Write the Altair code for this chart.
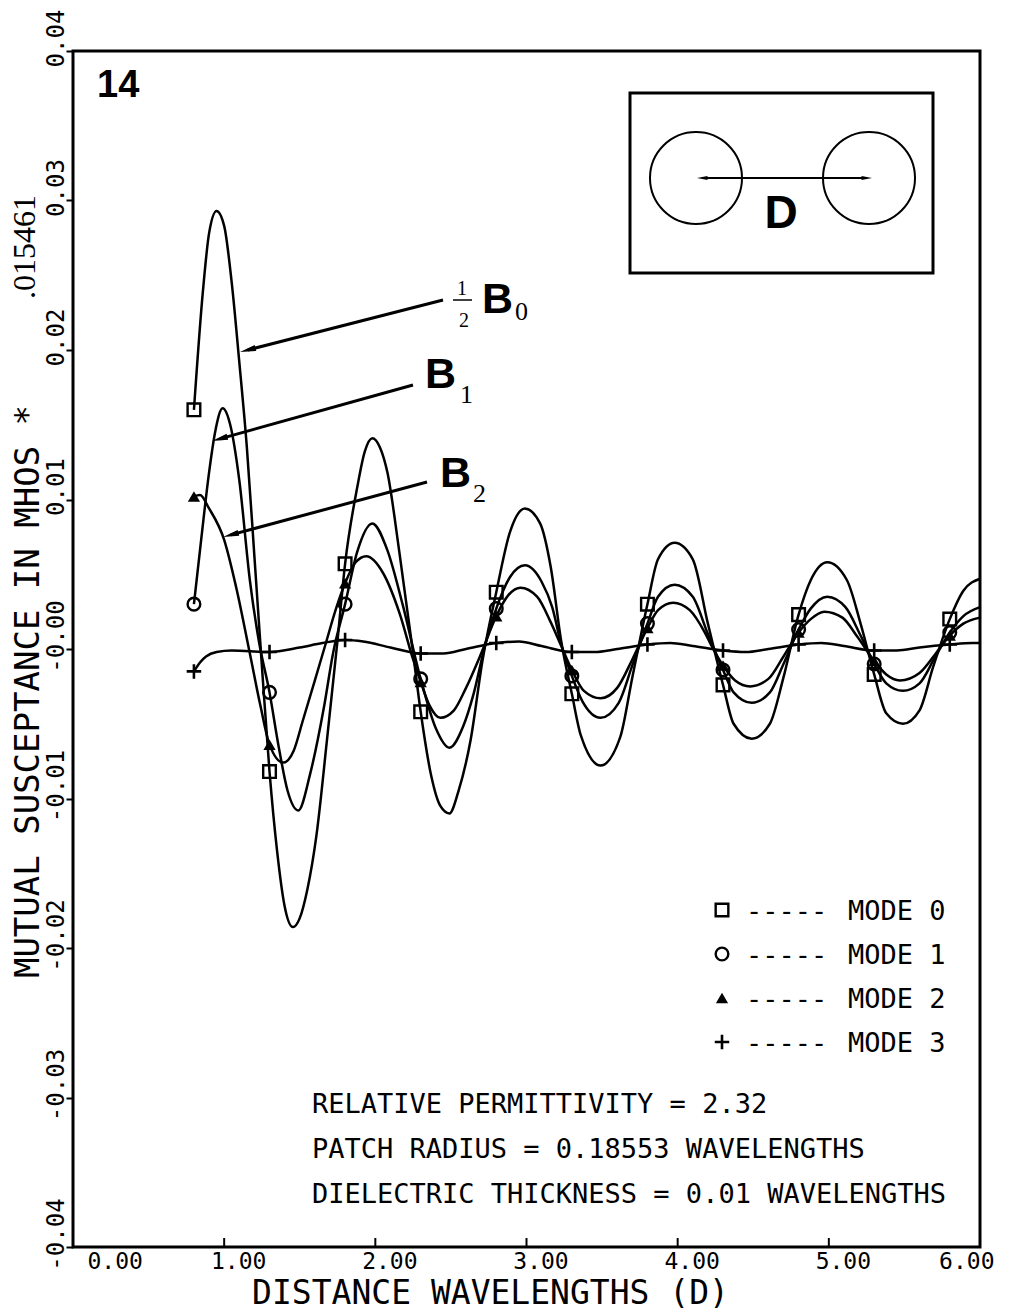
import math

import altair as alt
import numpy as np
import pandas as pd

# ---------------------------------------------------------------------------
# Mutual susceptance (mhos, scaled) versus centre spacing D (wavelengths)
# ---------------------------------------------------------------------------
MODE0_X = [0.80, 0.86, 0.90, 0.95, 1.00, 1.05, 1.10, 1.15, 1.20, 1.25, 1.30, 1.35,
           1.40, 1.455, 1.50, 1.55, 1.61, 1.68, 1.75, 1.80, 1.88, 1.93, 1.98, 2.03,
           2.08, 2.16, 2.25, 2.30, 2.37, 2.43, 2.49, 2.55, 2.63, 2.71, 2.80, 2.89,
           2.99, 3.09, 3.16, 3.23, 3.30, 3.36, 3.49, 3.62, 3.70, 3.80, 3.87, 3.98,
           4.10, 4.20, 4.30, 4.37, 4.49, 4.61, 4.70, 4.80, 4.88, 4.99, 5.12, 5.21,
           5.30, 5.38, 5.49, 5.60, 5.69, 5.80, 5.89, 6.00]
MODE0_Y = [0.0160, 0.0240, 0.0278, 0.0293, 0.0283, 0.0245, 0.0192, 0.0135, 0.0062,
           -0.0012, -0.0082, -0.0135, -0.0172, -0.0186, -0.0180, -0.0161, -0.0125,
           -0.0061, 0.0006, 0.0057, 0.0108, 0.0132, 0.0141, 0.0135, 0.0118, 0.0064,
           -0.0003, -0.0042, -0.0085, -0.0105, -0.0110, -0.0095, -0.0061, -0.0007,
           0.0038, 0.0078, 0.0094, 0.0084, 0.0055, 0.0005, -0.0030, -0.0058, -0.0078,
           -0.0059, -0.0019, 0.0030, 0.0060, 0.0071, 0.0060, 0.0017, -0.0024, -0.0050,
           -0.0060, -0.0050, -0.0019, 0.0023, 0.0046, 0.0058, 0.0046, 0.0017, -0.0017,
           -0.0043, -0.0050, -0.0041, -0.0012, 0.0020, 0.0039, 0.0047]

MODE1_X = [0.80, 0.85, 0.90, 0.94, 0.99, 1.04, 1.10, 1.17, 1.23, 1.30, 1.36, 1.42,
           1.49, 1.57, 1.66, 1.72, 1.80, 1.88, 1.98, 2.08, 2.18, 2.30, 2.40, 2.49,
           2.58, 2.65, 2.72, 2.80, 2.89, 2.99, 3.10, 3.17, 3.23, 3.30, 3.37, 3.49,
           3.61, 3.70, 3.80, 3.87, 3.98, 4.10, 4.20, 4.30, 4.37, 4.49, 4.61, 4.70,
           4.80, 4.88, 4.99, 5.11, 5.21, 5.30, 5.38, 5.49, 5.60, 5.70, 5.80, 5.89, 6.00]
MODE1_Y = [0.0030, 0.0075, 0.0118, 0.0145, 0.0161, 0.0150, 0.0113, 0.0046, 0.0005,
           -0.0029, -0.0065, -0.0095, -0.0108, -0.0083, -0.0039, -0.0003, 0.0030,
           0.0065, 0.0084, 0.0066, 0.0030, -0.0020, -0.0053, -0.0066, -0.0052,
           -0.0030, 0.0000, 0.0027, 0.0048, 0.0056, 0.0045, 0.0028, 0.0003, -0.0018,
           -0.0035, -0.0046, -0.0036, -0.0011, 0.0017, 0.0035, 0.0043, 0.0035, 0.0010,
           -0.0014, -0.0029, -0.0036, -0.0029, -0.0010, 0.0013, 0.0027, 0.0035, 0.0028,
           0.0009, -0.0010, -0.0023, -0.0028, -0.0023, -0.0006, 0.0011, 0.0022, 0.0028]

MODE2_X = [0.80, 0.84, 0.90, 1.00, 1.08, 1.17, 1.24, 1.30, 1.39, 1.46, 1.52, 1.60,
           1.67, 1.74, 1.80, 1.87, 1.94, 2.05, 2.16, 2.25, 2.30, 2.36, 2.43, 2.52,
           2.60, 2.70, 2.80, 2.88, 2.96, 3.07, 3.16, 3.23, 3.30, 3.38, 3.49, 3.60,
           3.70, 3.80, 3.87, 3.97, 4.08, 4.18, 4.23, 4.30, 4.38, 4.48, 4.60, 4.70,
           4.80, 4.88, 4.97, 5.09, 5.19, 5.30, 5.38, 5.47, 5.60, 5.70, 5.80, 5.89, 6.00]
MODE2_Y = [0.0102, 0.0103, 0.0094, 0.0073, 0.0041, -0.0003, -0.0038, -0.0064,
           -0.0076, -0.0068, -0.0048, -0.0021, 0.0003, 0.0027, 0.0044, 0.0058, 0.0062,
           0.0051, 0.0024, -0.0007, -0.0022, -0.0038, -0.0046, -0.0041, -0.0026,
           -0.0003, 0.0022, 0.0036, 0.0041, 0.0035, 0.0018, 0.0002, -0.0014, -0.0028,
           -0.0033, -0.0026, -0.0007, 0.0014, 0.0026, 0.0031, 0.0026, 0.0011, 0.0001,
           -0.0011, -0.0021, -0.0025, -0.0020, -0.0005, 0.0011, 0.0020, 0.0025, 0.0021,
           0.0008, -0.0008, -0.0017, -0.0021, -0.0016, -0.0004, 0.0009, 0.0017, 0.0021]

MODE3_X = [0.80, 0.84, 0.88, 0.95, 1.05, 1.30, 1.50, 1.65, 1.80, 1.92, 2.10, 2.30,
           2.45, 2.60, 2.80, 2.95, 3.10, 3.30, 3.45, 3.60, 3.80, 3.95, 4.10, 4.30,
           4.45, 4.60, 4.80, 4.95, 5.10, 5.30, 5.45, 5.60, 5.80, 5.95, 6.00]
MODE3_Y = [-0.0015, -0.0009, -0.0005, -0.0002, -0.0001, -0.0002, 0.0001, 0.0004,
           0.0006, 0.0005, 0.0001, -0.0003, -0.0003, 0.0000, 0.0004, 0.0005, 0.0002,
           -0.0002, -0.0002, 0.0000, 0.0003, 0.0004, 0.0002, -0.0001, -0.0002, 0.0000,
           0.0003, 0.0004, 0.0002, -0.0001, -0.0001, 0.0001, 0.0003, 0.0004, 0.0004]

MARKER_X = [0.8, 1.3, 1.8, 2.3, 2.8, 3.3, 3.8, 4.3, 4.8, 5.3, 5.8]
MODE_NAMES = ["MODE 0", "MODE 1", "MODE 2", "MODE 3"]
X_TICKS = [0, 1, 2, 3, 4, 5, 6]
Y_TICKS = [-0.04, -0.03, -0.02, -0.01, 0.0, 0.01, 0.02, 0.03, 0.04]
INFO_LINES = [
    "RELATIVE PERMITTIVITY = 2.32",
    "PATCH RADIUS = 0.18553 WAVELENGTHS",
    "DIELECTRIC THICKNESS = 0.01 WAVELENGTHS",
]

# ---------------------------------------------------------------------------
W, H = 907, 1196
FONT = "DejaVu Sans Mono"
SANS = "Liberation Sans"
SERIF = "Liberation Serif"
INK = "black"
PLUS_PATH = "M-1,0L1,0M0,-1L0,1"
HEAD_PATH = "M0,-1L0.38,1L-0.38,1Z"

series = [(MODE0_X, MODE0_Y), (MODE1_X, MODE1_Y), (MODE2_X, MODE2_Y), (MODE3_X, MODE3_Y)]
curves = pd.concat(
    [pd.DataFrame({"x": xs, "y": ys, "mode": name}) for name, (xs, ys) in zip(MODE_NAMES, series)],
    ignore_index=True,
)
is_marker = np.isclose(curves["x"].to_numpy()[:, None], np.array(MARKER_X)[None, :]).any(axis=1)
markers = curves[is_marker].reset_index(drop=True)

xscale = alt.Scale(domain=[0, 6], nice=False, zero=False)
yscale = alt.Scale(domain=[-0.04, 0.04], nice=False, zero=False)

x_axis = alt.Axis(
    values=X_TICKS, labelExpr="format(datum.value, '.2f')", ticks=False, tickSize=0,
    domain=False, grid=False, labelFont=FONT, labelFontSize=23, labelColor=INK,
    labelBaseline="alphabetic", labelPadding=21, labelOffset=14,
    title="DISTANCE WAVELENGTHS (D)", titleFont=FONT, titleFontSize=33,
    titleFontWeight="normal", titleColor=INK, titleX=417, titleY=56,
    titleAlign="center", titleBaseline="alphabetic",
)
y_axis = alt.Axis(
    values=Y_TICKS,
    labelExpr="abs(datum.value) < 1e-9 ? '-0.00' : (datum.value < 0 ? '-' : '') + format(abs(datum.value), '.2f')",
    tickSize=7, tickWidth=2, tickColor=INK, domain=False, grid=False,
    labelFont=FONT, labelFontSize=24, labelColor=INK, labelAngle=270,
    labelAlign="center", labelBaseline="bottom", labelPadding=-2, labelOffset=-13,
    title="MUTUAL SUSCEPTANCE IN MHOS  *", titleFont=FONT, titleFontSize=34,
    titleFontWeight="normal", titleColor=INK, titleAngle=270, titleAlign="center",
    titleBaseline="middle", titleX=-45, titleY=640,
)

base = alt.Chart(curves)
lines = base.mark_line(interpolate="monotone", color=INK, strokeWidth=2.5).encode(
    x=alt.X("x:Q", scale=xscale, axis=x_axis),
    y=alt.Y("y:Q", scale=yscale, axis=y_axis),
    detail="mode:N",
)

mk = alt.Chart(markers)
def marker_layer(mode, **style):
    return mk.transform_filter(alt.datum.mode == mode).mark_point(color=INK, opacity=1, **style).encode(
        x=alt.X("x:Q", scale=xscale), y=alt.Y("y:Q", scale=yscale)
    )

SYMBOLS = [
    dict(shape="square", size=160, filled=False, strokeWidth=2.4),
    dict(shape="circle", size=160, filled=False, strokeWidth=2.4),
    dict(shape="triangle-up", size=150, filled=True),
    dict(shape=PLUS_PATH, size=210, filled=False, strokeWidth=2.6),
]
marker_layers = [marker_layer(name, **sym) for name, sym in zip(MODE_NAMES, SYMBOLS)]

# inward tick marks along the distance axis
tick_df = pd.DataFrame({"x": X_TICKS})
x_ticks = alt.Chart(tick_df).mark_rule(color=INK, strokeWidth=2).encode(
    x=alt.X("x:Q", scale=xscale),
    y=alt.datum(-0.04, scale=yscale),
    y2=alt.datum(-0.0394),
)

ONE = pd.DataFrame({"k": [0]})

def text(t, x, y, size, font=FONT, weight="normal", align="left", baseline="alphabetic", angle=0):
    return alt.Chart(ONE).mark_text(
        text=t, font=font, fontSize=size, fontWeight=weight, align=align,
        baseline=baseline, angle=angle, color=INK,
    ).encode(x=alt.value(x), y=alt.value(y))

def symbol(x, y, **style):
    return alt.Chart(ONE).mark_point(color=INK, opacity=1, **style).encode(x=alt.value(x), y=alt.value(y))

def segment(x0, y0, x1, y1, width):
    return alt.Chart(ONE).mark_rule(color=INK, strokeWidth=width).encode(
        x=alt.value(x0), y=alt.value(y0), x2=alt.value(x1), y2=alt.value(y1)
    )

def arrow(x0, y0, x1, y1, width=3, head=256):
    dx, dy = x1 - x0, y1 - y0
    length = math.hypot(dx, dy)
    ux, uy = dx / length, dy / length
    ang = math.degrees(math.atan2(ux, -uy)) % 360
    half = math.sqrt(head) / 2
    tip = symbol(x1 - ux * half, y1 - uy * half, shape=HEAD_PATH, size=head,
                 filled=True, angle=ang, strokeWidth=0)
    return [segment(x0, y0, x1 - ux * half, y1 - uy * half, width), tip]

# legend block
legend_layers = []
for i, (name, sym) in enumerate(zip(MODE_NAMES, SYMBOLS)):
    cy = 859 + i * 44
    legend_layers.append(symbol(649, cy, **sym))
    legend_layers.append(text("-----", 673, cy + 10, 27))
    legend_layers.append(text(name, 775, cy + 10, 27))

info_layers = [text(line, 239, 1062 + i * 45, 27) for i, line in enumerate(INFO_LINES)]

# inset sketch of two patches separated by D
inset = [
    alt.Chart(ONE).mark_rect(filled=False, stroke=INK, strokeWidth=3).encode(
        x=alt.value(557), x2=alt.value(860), y=alt.value(42), y2=alt.value(222)
    ),
    symbol(623, 127, shape="circle", size=8464, filled=False, strokeWidth=2),
    symbol(796, 127, shape="circle", size=8464, filled=False, strokeWidth=2),
    *arrow(712, 127, 624, 127, width=2, head=110),
    *arrow(712, 127, 799, 127, width=2, head=110),
    text("D", 708, 177, 46, font=SANS, weight="bold", align="center"),
]

curve_labels = [
    text("14", 24, 46, 38, font=SANS, weight="bold"),
    text("1", 389, 244, 20, font=SERIF, align="center"),
    segment(380, 249, 399, 249, 1.5),
    text("2", 391, 276, 20, font=SERIF, align="center"),
    text("B", 409, 262, 43, font=SANS, weight="bold"),
    text("0", 442, 269, 26, font=SERIF),
    text("B", 352, 337, 43, font=SANS, weight="bold"),
    text("1", 387, 352, 26, font=SERIF),
    text("B", 367, 436, 43, font=SANS, weight="bold"),
    text("2", 400, 451, 26, font=SERIF),
    *arrow(370, 249, 167, 301),
    *arrow(340, 334, 139, 390),
    *arrow(354, 431, 150, 486),
    text(".015461", -48, 196, 32, font=SERIF, align="center", baseline="middle", angle=270),
]

chart = alt.layer(
    lines, *marker_layers, x_ticks, *legend_layers, *info_layers, *inset, *curve_labels
).properties(
    width=W, height=H,
    autosize=alt.AutoSizeParams(type="none"),
    padding={"left": 73, "top": 51, "right": 54, "bottom": 66},
    background="white",
).configure_view(stroke=INK, strokeWidth=3)

chart.save("out.html", embed_options={"renderer": "svg", "actions": False})
